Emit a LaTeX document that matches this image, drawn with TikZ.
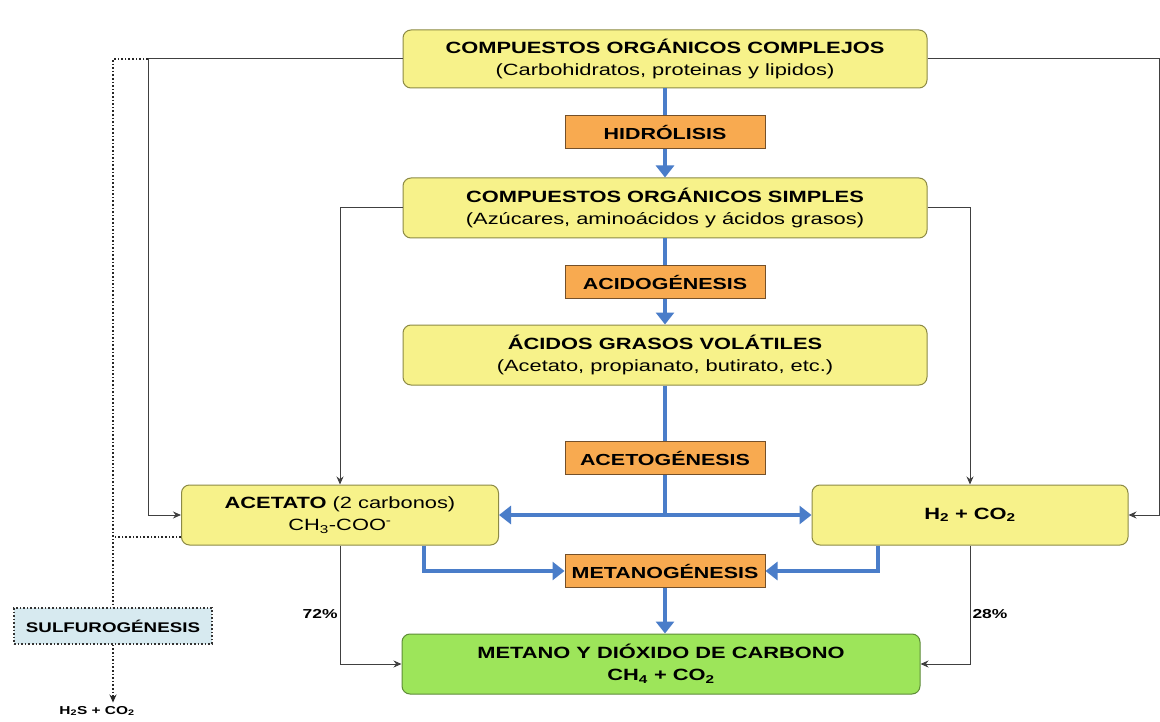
\documentclass[tikz,border=0pt]{standalone}
\usepackage{fontspec}
\setmainfont{Liberation Sans}[FakeStretch=1.34]
\usetikzlibrary{arrows.meta}

\definecolor{boxyellow}{HTML}{F7F28A}
\definecolor{boxedge}{HTML}{8C8A45}
\definecolor{procorange}{HTML}{F8AA50}
\definecolor{procedge}{HTML}{74502A}
\definecolor{finalgreen}{HTML}{9DE55A}
\definecolor{finaledge}{HTML}{5E8C38}
\definecolor{flowblue}{HTML}{4A7DC9}
\definecolor{sulfblue}{HTML}{D7EAF0}

\begin{document}
\begin{tikzpicture}[x=1pt, y=-1pt, >={Stealth[length=8pt, width=7pt]},
    stagebox/.style={draw=boxedge, fill=boxyellow, line width=1pt, rounded corners=8pt,
        align=center, inner sep=0pt, font=\fontsize{16.3}{22}\selectfont},
    procbox/.style={draw=procedge, fill=procorange, line width=1pt, inner sep=0pt,
        minimum width=200pt, minimum height=33pt, font=\fontsize{16}{20}\selectfont\bfseries},
    blueline/.style={draw=flowblue, line width=4.5pt},
    bluearrow/.style={blueline, -{Triangle[width=18pt, length=12pt]}},
    thinline/.style={draw=black!75, line width=1pt},
    dotline/.style={draw=black!85, line width=1.6pt, dotted},
    pctlabel/.style={font=\fontsize{13}{15}\selectfont\bfseries, inner sep=2pt}]
    \fill[white] (0,0) rectangle (1160,722);
    \useasboundingbox (0,0) rectangle (1160,722);

    % Main stages
    \node[stagebox, minimum width=524pt, minimum height=58pt] (complejos) at (665,59)
        {\textbf{COMPUESTOS ORGÁNICOS COMPLEJOS}\\(Carbohidratos, proteinas y lipidos)};
    \node[procbox] (hidrolisis) at (665,132) {HIDRÓLISIS};
    \node[stagebox, minimum width=524pt, minimum height=60pt] (simples) at (665,208)
        {\textbf{COMPUESTOS ORGÁNICOS SIMPLES}\\(Azúcares, aminoácidos y ácidos grasos)};
    \node[procbox] (acidogenesis) at (665,282) {ACIDOGÉNESIS};
    \node[stagebox, minimum width=524pt, minimum height=60pt] (volatiles) at (665,355)
        {\textbf{ÁCIDOS GRASOS VOLÁTILES}\\(Acetato, propianato, butirato, etc.)};
    \node[procbox] (acetogenesis) at (665,458) {ACETOGÉNESIS};
    \node[stagebox, minimum width=317pt, minimum height=60pt] (acetato) at (340,515)
        {\textbf{ACETATO} (2 carbonos)\\CH\textsubscript{3}-COO\textsuperscript{-}};
    \node[stagebox, minimum width=316pt, minimum height=60pt] (hidrogeno) at (970,515)
        {\textbf{H\textsubscript{2} + CO\textsubscript{2}}};
    \node[procbox] (metanogenesis) at (665,571) {METANOGÉNESIS};
    \node[stagebox, fill=finalgreen, draw=finaledge, minimum width=518pt, minimum height=60pt] (metano) at (661,664)
        {\textbf{METANO Y DIÓXIDO DE CARBONO}\\\textbf{CH\textsubscript{4} + CO\textsubscript{2}}};

    % Sulphur branch
    \node[draw=black!80, dotted, line width=1.6pt, fill=sulfblue, minimum width=198pt, minimum height=36pt,
        inner sep=0pt, font=\fontsize{14}{16}\selectfont\bfseries] (sulfuro) at (113,626) {SULFUROGÉNESIS};
    \node[font=\fontsize{11.5}{14}\selectfont\bfseries] (sulfhidrico) at (97,711) {H\textsubscript{2}S + CO\textsubscript{2}};

    % Blue main flow
    \draw[blueline] (complejos) -- (hidrolisis);
    \draw[bluearrow] (hidrolisis) -- (simples);
    \draw[blueline] (simples) -- (acidogenesis);
    \draw[bluearrow] (acidogenesis) -- (volatiles);
    \draw[blueline] (volatiles) -- (acetogenesis);
    \coordinate (reparto) at (665,515);
    \draw[blueline] (acetogenesis.south) -- (reparto);
    \draw[bluearrow] (reparto) -- (acetato.east);
    \draw[bluearrow] (reparto) -- (hidrogeno.west);
    \draw[bluearrow] ([xshift=84pt]acetato.south) |- (metanogenesis.west);
    \draw[bluearrow] ([xshift=-92pt]hidrogeno.south) |- (metanogenesis.east);
    \draw[bluearrow] (metanogenesis) -- (metanogenesis |- metano.north);

    % Thin side connectors
    \coordinate (lazoizq) at (148,59);
    \draw[thinline, ->] (complejos.west) -- (lazoizq) |- (acetato.west);
    \draw[thinline, ->] (complejos.east) -- ++(232,0) |- (hidrogeno.east);
    \draw[thinline, ->] (simples.west) -| (acetato.north);
    \draw[thinline, ->] (simples.east) -| (hidrogeno.north);
    \draw[thinline, ->] (acetato.south) |- node[pos=0.29, left, pctlabel] {72\%} (metano.west);
    \draw[thinline, ->] (hidrogeno.south) |- node[pos=0.29, right, pctlabel] {28\%} (metano.east);

    % Dotted sulphur path
    \draw[dotline] (lazoizq) -- (lazoizq -| sulfuro.north) -- (sulfuro.north);
    \draw[dotline] ([yshift=-22pt]acetato.west) -- ([yshift=-22pt]acetato.west -| sulfuro.north);
    \draw[dotline, ->] (sulfuro.south) -- (sulfhidrico.north -| sulfuro.south);
\end{tikzpicture}
\end{document}
